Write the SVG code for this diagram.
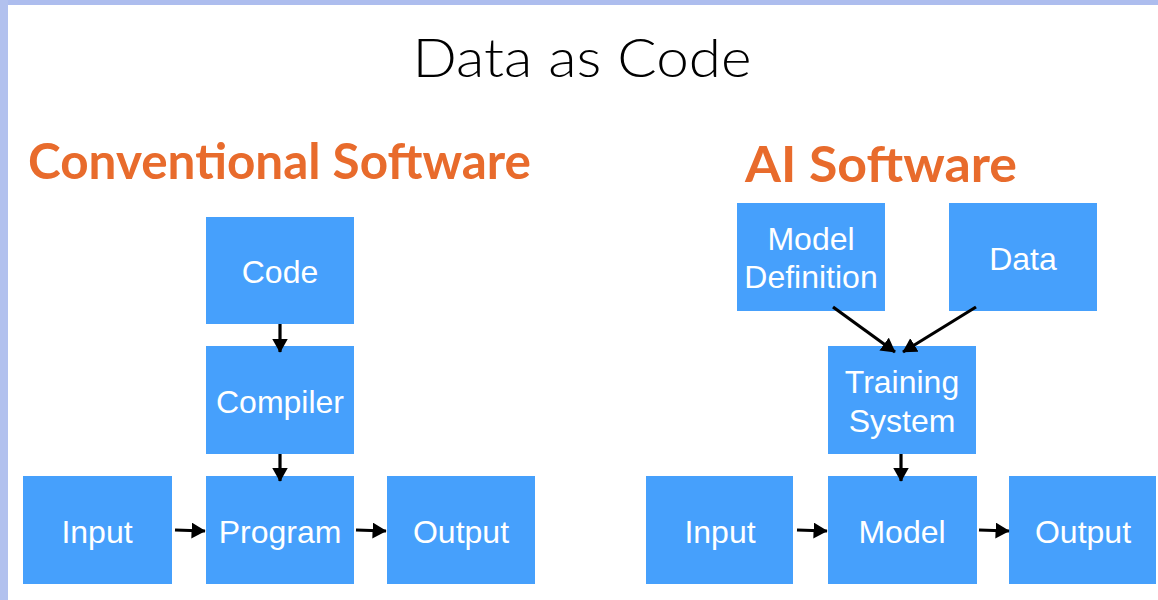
<svg xmlns="http://www.w3.org/2000/svg" width="1158" height="600" viewBox="0 0 1158 600">
<style>
.box{fill:#46a0fc}
.lbl{font-family:"Liberation Sans",Arial,sans-serif;font-size:32px;fill:#fff;text-anchor:middle}
.hd{font-family:Lato,"Open Sans",sans-serif;font-weight:bold;fill:#e86b2c}
.cn{stroke:#000;stroke-width:3.2;fill:none;marker-end:url(#ah)}
</style>
<defs>
<marker id="ah" markerWidth="6" markerHeight="6" refX="4.2" refY="2.5" orient="auto" markerUnits="strokeWidth">
<path d="M0,0 L4.4,2.5 L0,5 Z" fill="#000"/>
</marker>
</defs>
<rect x="0" y="0" width="1158" height="600" fill="#fff"/>
<rect x="0" y="0" width="1158" height="5" fill="#adbdee"/>
<rect x="0" y="0" width="8" height="600" fill="#b2c1ee"/>
<text x="582" y="77" font-family="Lato,'Open Sans',sans-serif" font-weight="300" font-size="53" fill="#000" text-anchor="middle" textLength="339" lengthAdjust="spacingAndGlyphs">Data as Code</text>
<text class="hd" x="28" y="179" font-size="49" textLength="503" lengthAdjust="spacingAndGlyphs">Conventional Software</text>
<text class="hd" x="745" y="182" font-size="49" textLength="272" lengthAdjust="spacingAndGlyphs">AI Software</text>
<g id="code"><rect class="box" x="206" y="217" width="148" height="107"/><text class="lbl" x="280" y="283">Code</text></g>
<g id="compiler"><rect class="box" x="206" y="346" width="148" height="108"/><text class="lbl" x="280" y="413">Compiler</text></g>
<g id="program"><rect class="box" x="206" y="476" width="148" height="108"/><text class="lbl" x="280" y="543">Program</text></g>
<g id="input1"><rect class="box" x="23" y="476" width="149" height="108"/><text class="lbl" x="97" y="543">Input</text></g>
<g id="output1"><rect class="box" x="387" y="476" width="148" height="108"/><text class="lbl" x="461" y="543">Output</text></g>
<g id="modeldef"><rect class="box" x="737" y="203" width="148" height="108"/><text class="lbl" x="811" y="250">Model</text><text class="lbl" x="811" y="288">Definition</text></g>
<g id="data"><rect class="box" x="949" y="203" width="148" height="108"/><text class="lbl" x="1023" y="270">Data</text></g>
<g id="training"><rect class="box" x="828" y="346" width="148" height="108"/><text class="lbl" x="902" y="393">Training</text><text class="lbl" x="902" y="432">System</text></g>
<g id="input2"><rect class="box" x="646" y="476" width="147" height="108"/><text class="lbl" x="720" y="543">Input</text></g>
<g id="model"><rect class="box" x="828" y="476" width="149" height="108"/><text class="lbl" x="902" y="543">Model</text></g>
<g id="output2"><rect class="box" x="1009" y="476" width="147" height="108"/><text class="lbl" x="1083" y="543">Output</text></g>
<g id="connectors">
<line class="cn" x1="280" y1="324" x2="280" y2="352"/>
<line class="cn" x1="280" y1="454" x2="280" y2="481"/>
<line class="cn" x1="175" y1="530" x2="205" y2="531"/>
<line class="cn" x1="356" y1="530" x2="386" y2="531"/>
<line class="cn" x1="833" y1="307" x2="895" y2="352"/>
<line class="cn" x1="976" y1="307" x2="903" y2="352"/>
<line class="cn" x1="901" y1="454" x2="901" y2="481"/>
<line class="cn" x1="797" y1="530" x2="827" y2="531"/>
<line class="cn" x1="979" y1="530" x2="1009" y2="531"/>
</g>
</svg>
